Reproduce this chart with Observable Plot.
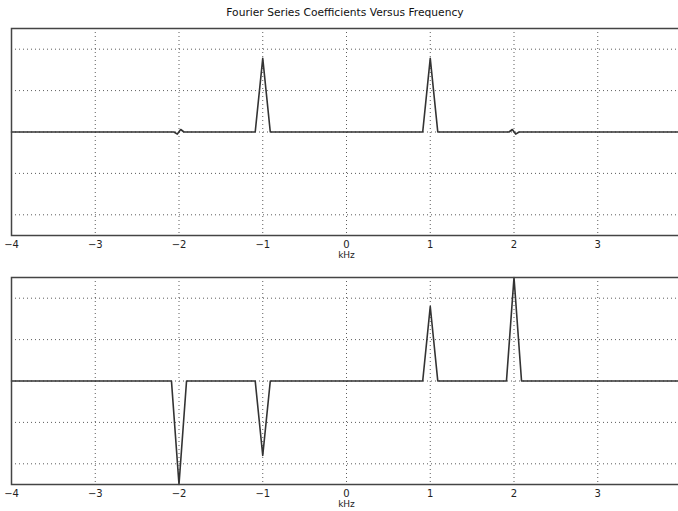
<!DOCTYPE html>
<html>
<head>
<meta charset="utf-8">
<script src="https://cdn.jsdelivr.net/npm/d3@7"></script>
<script src="https://cdn.jsdelivr.net/npm/@observablehq/plot@0.6"></script>
<style>
  html, body { margin: 0; padding: 0; background: #fff; width: 678px; height: 511px; overflow: hidden; }
  #wrap { position: relative; width: 678px; height: 511px; overflow: hidden; }
  #title { position: absolute; left: 0; width: 690px; top: 6px; text-align: center; font-family: "DejaVu Sans", sans-serif; font-size: 10.7px; color: #111; }
  .panel { position: absolute; left: 0; width: 692px; }
  .panel svg { max-width: none !important; }
</style>
</head>
<body>
<div id="wrap">
  <div id="title">Fourier Series Coefficients Versus Frequency</div>
  <div id="p1" class="panel" style="top:0px"></div>
  <div id="p2" class="panel" style="top:251px"></div>
</div>
<script>
// Frequency axis ticks (kHz)
const xTicks = [-4, -3, -2, -1, 0, 1, 2, 3, 4];
const yGrid = [-2, -1, 0, 1, 2];

// Top panel: real-part coefficients (even)
const freqTop = [-4, -2.06, -2.02, -1.98, -1.94, -1.09, -1, -0.91, 0.91, 1, 1.09, 1.94, 1.98, 2.02, 2.06, 4];
const valTop  = [0, 0, -0.05, 0.06, 0, 0, 1.78, 0, 0, 1.78, 0, 0, 0.06, -0.05, 0, 0];

// Bottom panel: imaginary-part coefficients (odd)
const freqBot = [-4, -2.09, -2, -1.91, -1.09, -1, -0.91, 0.91, 1, 1.09, 1.91, 2, 2.09, 4];
const valBot  = [0, 0, -2.5, 0, 0, -1.8, 0, 0, 1.8, 0, 0, 2.5, 0, 0];

function panel(freq, vals, height, mTop, mBottom) {
  const data = freq.map((f, i) => ({f, v: vals[i]}));
  return Plot.plot({
    width: 692,
    height,
    marginLeft: 11,
    marginRight: 11,
    marginTop: mTop,
    marginBottom: mBottom,
    style: {fontFamily: "DejaVu Sans, sans-serif", fontSize: "10px", color: "#222", background: "transparent", overflow: "visible", maxWidth: "none"},
    x: {domain: [-4, 4]},
    y: {domain: [-2.5, 2.5], axis: null},
    marks: [
      Plot.gridX(xTicks.slice(1, -1), {stroke: "#333", strokeOpacity: 0.8, strokeDasharray: "1,3"}),
      Plot.gridY(yGrid, {stroke: "#333", strokeOpacity: 0.8, strokeDasharray: "1,3"}),
      Plot.line(data, {x: "f", y: "v", stroke: "#333", strokeWidth: 1.6}),
      Plot.frame({stroke: "#444", strokeWidth: 1.5}),
      Plot.axisX({ticks: xTicks, tickSize: 0, tickPadding: 5, label: null}),
      Plot.text(["kHz"], {frameAnchor: "bottom", lineAnchor: "middle", dy: 20, fontSize: 9, fill: "#222"})
    ]
  });
}

document.getElementById("p1").appendChild(panel(freqTop, valTop, 262, 28, 27));
document.getElementById("p2").appendChild(panel(freqBot, valBot, 260, 26, 27));
</script>
</body>
</html>
